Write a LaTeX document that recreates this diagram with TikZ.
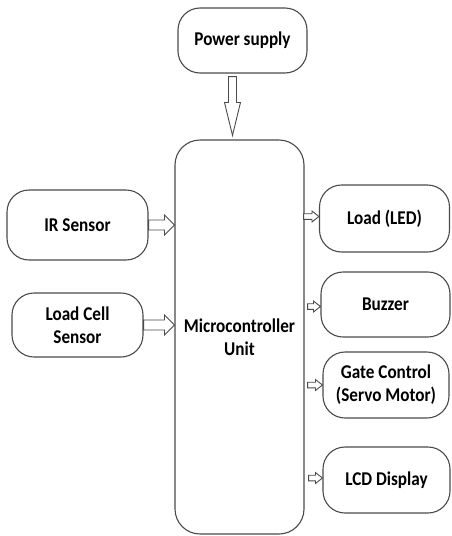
\documentclass[tikz,border=0pt]{standalone}
\usepackage{fontspec}
\setmainfont{Carlito}[FakeStretch=0.88]
\usetikzlibrary{calc}

\definecolor{edgegray}{HTML}{4A4A4A}

% hollow block arrow: start, tip, shaft half-width, head half-width, head length
\newcommand\blockarrow[5]{%
  \path ($(#2)!#5!(#1)$) coordinate (ba-h);
  \draw[arrowline] ($(#1)!#3!90:(#2)$) -- ($(ba-h)!#3!-90:(#1)$)
    -- ($(ba-h)!#4!-90:(#1)$) -- (#2) -- ($(ba-h)!#4!90:(#1)$)
    -- ($(ba-h)!#3!90:(#1)$) -- ($(#1)!#3!-90:(#2)$) -- cycle;}

\tikzset{
  block/.style={draw=edgegray, line width=1.1pt, fill=white, rounded corners=22pt,
    align=center, inner sep=0pt, font=\fontsize{19.5}{23}\selectfont\bfseries},
  arrowline/.style={draw=edgegray, line width=0.9pt, fill=white, line join=miter},
}

\begin{document}
\begin{tikzpicture}[x=1pt, y=-1pt]
  \useasboundingbox (0,0) rectangle (451,536);

  % blocks
  \node[block, minimum width=129pt, minimum height=65pt] (power) at (242.5,40.5) {Power supply};
  \node[block, rounded corners=25pt, minimum width=129pt, minimum height=394pt] (mcu) at (239.5,337) {Microcontroller\\Unit};

  \node[block, minimum width=141pt, minimum height=70pt] (ir) at (77.5,225) {IR Sensor};
  \node[block, minimum width=131pt, minimum height=64pt] (cell) at (77.5,325) {Load Cell\\Sensor};

  \node[block, minimum width=130pt, minimum height=67pt] (led) at (384.5,218.5) {Load (LED)};
  \node[block, minimum width=129pt, minimum height=65pt] (buzz) at (385.5,304.5) {Buzzer};
  \node[block, minimum width=126pt, minimum height=66pt] (gate) at (386,385) {Gate Control\\(Servo Motor)};
  \node[block, minimum width=127pt, minimum height=66pt] (lcd) at (386.5,480) {LCD Display};

  % power feed
  \coordinate (pw-s) at ($(power.south)+(-10,3)$);
  \coordinate (pw-t) at ($(mcu.north)+(-7,-4)$);
  \blockarrow{pw-s}{pw-t}{4pt}{8pt}{33pt}

  % sensor inputs
  \coordinate (ir-t) at (mcu.west |- ir.east);
  \blockarrow{ir.east}{ir-t}{5pt}{10pt}{10pt}
  \coordinate (cell-t) at (mcu.west |- cell.east);
  \blockarrow{cell.east}{cell-t}{5pt}{10pt}{10pt}

  % outputs
  \coordinate (led-s) at ($(mcu.east |- led.west)+(-1,-2)$);
  \coordinate (led-t) at ($(led.west)+(0,-2)$);
  \blockarrow{led-s}{led-t}{2.8pt}{5.5pt}{7pt}
  \coordinate (buzz-s) at ($(mcu.east |- buzz.west)+(3,2)$);
  \coordinate (buzz-t) at ($(buzz.west)+(0,2)$);
  \blockarrow{buzz-s}{buzz-t}{2.8pt}{5.5pt}{7pt}
  \coordinate (gate-s) at ($(mcu.east |- gate.west)+(3,0)$);
  \blockarrow{gate-s}{gate.west}{2.8pt}{5.5pt}{7pt}
  \coordinate (lcd-s) at ($(mcu.east |- lcd.west)+(4,-2)$);
  \coordinate (lcd-t) at ($(lcd.west)+(0,-2)$);
  \blockarrow{lcd-s}{lcd-t}{2.8pt}{5.5pt}{7pt}
\end{tikzpicture}
\end{document}
